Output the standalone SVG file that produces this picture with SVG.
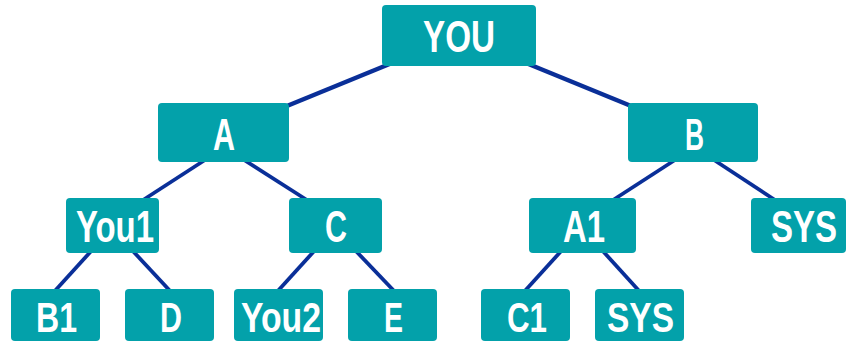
<svg xmlns="http://www.w3.org/2000/svg" width="848" height="343" viewBox="0 0 848 343">
<style>
.box{fill:#03A1AA}
.t{font-family:"Liberation Sans Narrow","Liberation Sans",Arial,sans-serif;font-weight:bold;fill:#fff;text-anchor:middle;font-size:45px}
.s{font-size:43px}
.ln{stroke:#0A2F98;stroke-width:4.5;fill:none}
.ln2{stroke:#0A2F98;stroke-width:3.8;fill:none}
</style>
<rect width="848" height="343" fill="#fff"/>
<g id="connectors">
<line class="ln" x1="392" y1="63" x2="282" y2="108"/>
<line class="ln" x1="526" y1="63" x2="636" y2="108"/>
<line class="ln2" x1="208" y1="158" x2="140" y2="202"/>
<line class="ln2" x1="241" y1="158" x2="310" y2="202"/>
<line class="ln2" x1="678" y1="158" x2="610" y2="202"/>
<line class="ln2" x1="711" y1="158" x2="778" y2="202"/>
<line class="ln2" x1="93" y1="249" x2="53" y2="293"/>
<line class="ln2" x1="131" y1="249" x2="172" y2="293"/>
<line class="ln2" x1="316" y1="249" x2="276" y2="293"/>
<line class="ln2" x1="354" y1="249" x2="396" y2="293"/>
<line class="ln2" x1="563" y1="249" x2="523" y2="293"/>
<line class="ln2" x1="601" y1="249" x2="641" y2="293"/>
</g>
<g id="n-you"><rect class="box" x="382" y="5" width="154" height="61" rx="4"/><text class="t" x="459" y="52" textLength="72" lengthAdjust="spacingAndGlyphs">YOU</text></g>
<g id="n-a"><rect class="box" x="158" y="103" width="131" height="59" rx="4"/><text class="t" x="224" y="150" textLength="22" lengthAdjust="spacingAndGlyphs">A</text></g>
<g id="n-b"><rect class="box" x="628" y="103" width="130" height="59" rx="4"/><text class="t" x="694.5" y="150" textLength="19" lengthAdjust="spacingAndGlyphs">B</text></g>
<g id="n-you1"><rect class="box" x="66" y="198" width="93" height="55" rx="4"/><text class="t" x="115" y="242" textLength="78" lengthAdjust="spacingAndGlyphs">You1</text></g>
<g id="n-c"><rect class="box" x="289" y="198" width="93" height="55" rx="4"/><text class="t" x="336" y="242" textLength="22" lengthAdjust="spacingAndGlyphs">C</text></g>
<g id="n-a1"><rect class="box" x="529" y="198" width="107" height="55" rx="4"/><text class="t" x="584" y="242" textLength="42" lengthAdjust="spacingAndGlyphs">A1</text></g>
<g id="n-sys1"><rect class="box" x="751" y="198" width="95" height="55" rx="4"/><text class="t" x="804" y="242" textLength="66" lengthAdjust="spacingAndGlyphs">SYS</text></g>
<g id="n-b1"><rect class="box" x="11" y="289" width="89" height="52" rx="4"/><text class="t s" x="56.5" y="332" textLength="41" lengthAdjust="spacingAndGlyphs">B1</text></g>
<g id="n-d"><rect class="box" x="125" y="289" width="89" height="52" rx="4"/><text class="t s" x="171" y="332" textLength="22" lengthAdjust="spacingAndGlyphs">D</text></g>
<g id="n-you2"><rect class="box" x="234" y="289" width="89" height="52" rx="4"/><text class="t s" x="281" y="332" textLength="80" lengthAdjust="spacingAndGlyphs">You2</text></g>
<g id="n-e"><rect class="box" x="348" y="289" width="89" height="52" rx="4"/><text class="t s" x="393.5" y="332" textLength="19" lengthAdjust="spacingAndGlyphs">E</text></g>
<g id="n-c1"><rect class="box" x="481" y="289" width="89" height="52" rx="4"/><text class="t s" x="527" y="332" textLength="40" lengthAdjust="spacingAndGlyphs">C1</text></g>
<g id="n-sys2"><rect class="box" x="595" y="289" width="89" height="52" rx="4"/><text class="t s" x="640.5" y="332" textLength="67" lengthAdjust="spacingAndGlyphs">SYS</text></g>
</svg>
